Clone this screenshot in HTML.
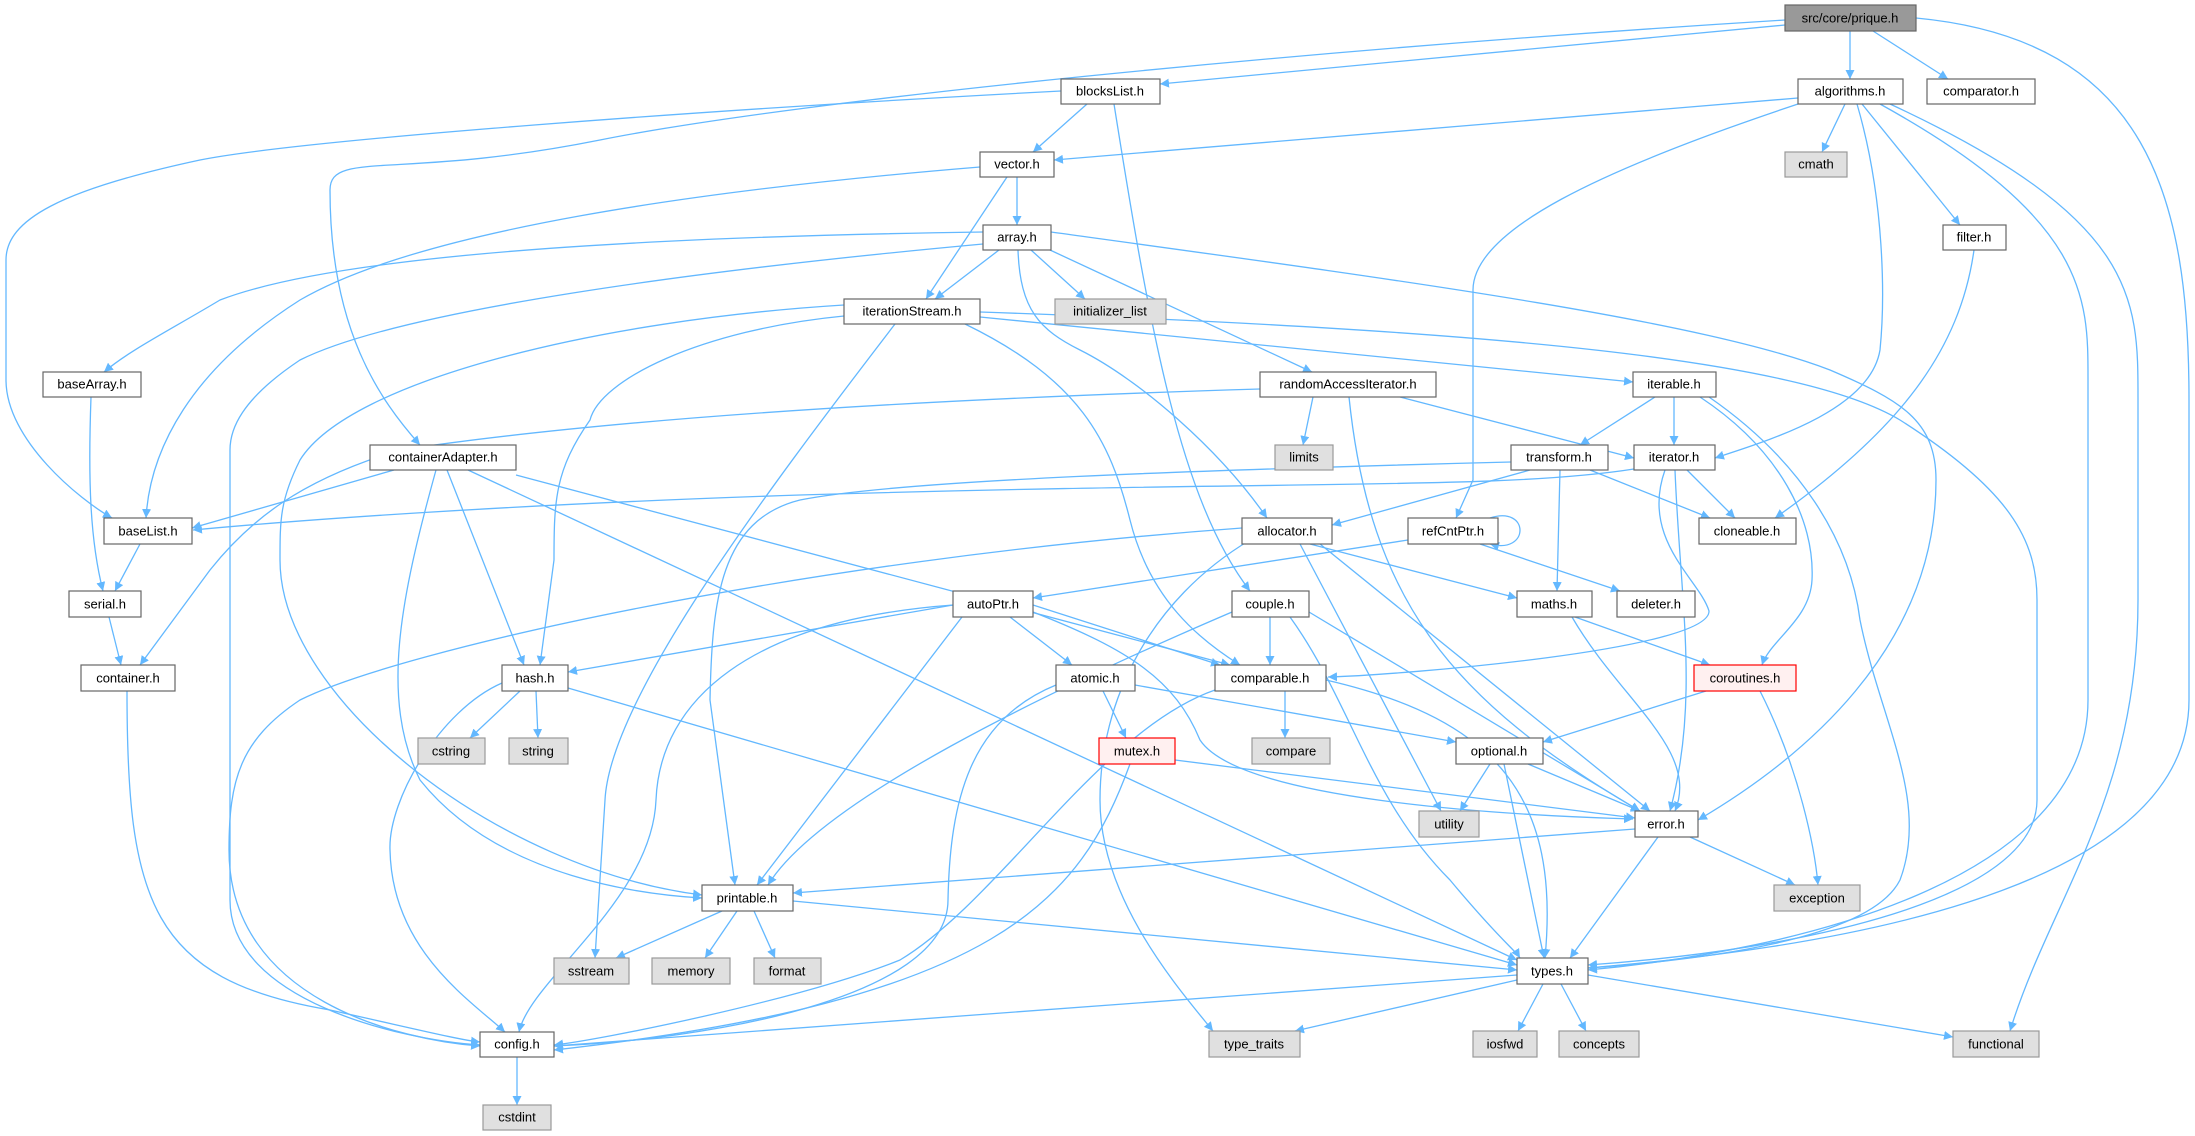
<!DOCTYPE html>
<html><head><meta charset="utf-8"><style>
html,body{margin:0;padding:0;background:#fff}
svg{display:block}
text{font-family:"Liberation Sans","DejaVu Sans",sans-serif;font-size:13px;fill:#000;text-anchor:middle;dominant-baseline:central}
.e{fill:none;stroke:#63b8ff;stroke-width:1.3}
.n rect{fill:#fff;stroke:#666;stroke-width:1.2}
.g rect{fill:#e0e0e0;stroke:#999;stroke-width:1.2}
.r rect{fill:#fff0f0;stroke:#f00;stroke-width:1.2}
.root rect{fill:#999;stroke:#666;stroke-width:1.2}
</style></head><body>
<svg width="2195" height="1136" viewBox="0 0 2195 1136" xmlns="http://www.w3.org/2000/svg">
<defs><marker id="a" viewBox="0 0 10 10" refX="10" refY="5" markerWidth="9" markerHeight="9" orient="auto" markerUnits="userSpaceOnUse"><path d="M0,0L10,5L0,10z" fill="#63b8ff"/></marker></defs>
<g marker-end="url(#a)">
<path class="e" d="M1785,20 C1300,50 800,100 600,140 C400,180 330,150 330,190 C330,330 380,400 420,445"/>
<path class="e" d="M1785,25 L1160,84"/>
<path class="e" d="M1850,31 L1850,79"/>
<path class="e" d="M1873,31 L1948,79"/>
<path class="e" d="M1916,18 C2150,40 2189,200 2189,400 L2189,700 C2189,900 1800,950 1588,968"/>
<path class="e" d="M1061,91 C700,110 300,140 200,160 C60,190 6,220 6,260 L6,380 C6,440 80,500 112,518"/>
<path class="e" d="M1087,104 L1033,152"/>
<path class="e" d="M1114,104 C1150,330 1180,500 1250,591"/>
<path class="e" d="M1798,98 L1054,160"/>
<path class="e" d="M1845,104 L1822,152"/>
<path class="e" d="M1798,104 C1600,170 1473,230 1473,290 L1473,480 L1456,518"/>
<path class="e" d="M1857,104 C1885,200 1885,300 1880,350 C1870,410 1770,440 1715,458"/>
<path class="e" d="M1862,104 L1960,225"/>
<path class="e" d="M1880,104 C2090,220 2088,300 2088,380 L2088,700 C2088,880 1800,950 1588,970"/>
<path class="e" d="M1890,104 C2140,220 2138,300 2138,400 L2138,600 C2138,800 2050,900 2010,1031"/>
<path class="e" d="M980,167 C700,190 420,230 300,300 C190,370 150,450 146,518"/>
<path class="e" d="M1007,177 L926,299"/>
<path class="e" d="M1017,177 L1017,225"/>
<path class="e" d="M983,232 C700,236 350,250 220,300 C170,330 130,350 104,372"/>
<path class="e" d="M983,244 C700,270 400,310 300,360 C240,400 230,430 230,450 L230,900 C230,1000 400,1040 480,1045"/>
<path class="e" d="M999,250 L935,299"/>
<path class="e" d="M1031,250 L1085,299"/>
<path class="e" d="M1018,250 C1020,310 1040,330 1080,350 C1140,380 1220,450 1267,518"/>
<path class="e" d="M1050,250 L1312,372"/>
<path class="e" d="M1051,232 C1400,280 1700,320 1830,370 C1900,400 1936,420 1936,480 C1936,650 1800,760 1698,820"/>
<path class="e" d="M844,305 C600,320 350,380 300,460 C280,500 280,520 280,560 C280,700 500,870 702,895"/>
<path class="e" d="M895,324 C760,500 610,700 605,800 L595,958"/>
<path class="e" d="M965,324 C1080,380 1110,440 1130,520 C1150,600 1200,640 1240,665"/>
<path class="e" d="M844,316 C700,330 600,380 590,420 C555,470 554,500 554,560 L540,665"/>
<path class="e" d="M980,317 L1633,382"/>
<path class="e" d="M980,312 C1500,330 1800,360 1900,420 C2010,490 2037,540 2037,600 L2037,800 C2037,900 1800,950 1588,965"/>
<path class="e" d="M91,397 C88,480 90,540 103,591"/>
<path class="e" d="M394,470 L192,528"/>
<path class="e" d="M447,470 L524,665"/>
<path class="e" d="M436,470 C400,600 380,700 420,780 C500,880 650,895 702,898"/>
<path class="e" d="M516,475 L1230,665"/>
<path class="e" d="M468,470 L1517,960"/>
<path class="e" d="M1260,389 C900,400 600,420 400,450 C300,480 250,520 210,570 L140,665"/>
<path class="e" d="M1313,397 L1303,445"/>
<path class="e" d="M1400,397 L1634,458"/>
<path class="e" d="M1349,397 C1370,600 1450,700 1640,811"/>
<path class="e" d="M1655,397 L1580,445"/>
<path class="e" d="M1674,397 L1674,445"/>
<path class="e" d="M1700,397 C1780,450 1815,520 1812,580 C1810,620 1770,640 1762,665"/>
<path class="e" d="M1709,397 C1800,460 1850,540 1860,620 C1880,720 1930,800 1900,880 C1870,940 1700,960 1588,968"/>
<path class="e" d="M1511,462 C1200,470 900,480 800,500 C720,520 712,600 710,700 L735,885"/>
<path class="e" d="M1530,470 L1332,525"/>
<path class="e" d="M1560,470 L1557,591"/>
<path class="e" d="M1590,470 L1710,518"/>
<path class="e" d="M1634,469 C1500,490 1300,480 800,495 C500,505 300,520 193,530"/>
<path class="e" d="M1687,470 L1735,518"/>
<path class="e" d="M1665,470 C1640,540 1700,580 1709,611 C1710,650 1400,675 1328,677"/>
<path class="e" d="M1675,470 C1680,600 1700,700 1670,811"/>
<path class="e" d="M1242,528 C800,560 400,650 300,700 C240,740 229,780 229,850 C229,1000 400,1040 480,1046"/>
<path class="e" d="M1250,540 C1150,600 1100,700 1100,800 C1100,900 1180,990 1213,1031"/>
<path class="e" d="M1310,544 L1517,598"/>
<path class="e" d="M1300,544 L1441,811"/>
<path class="e" d="M1320,544 L1650,811"/>
<path class="e" d="M1490,518 C1530,505 1530,555 1490,544"/>
<path class="e" d="M1408,540 L1033,598"/>
<path class="e" d="M1480,544 L1620,591"/>
<path class="e" d="M953,605 L568,672"/>
<path class="e" d="M953,605 C750,620 660,700 656,800 C652,900 530,980 519,1032"/>
<path class="e" d="M962,617 L757,885"/>
<path class="e" d="M1010,617 L1072,665"/>
<path class="e" d="M1033,605 L1220,665"/>
<path class="e" d="M1033,612 C1130,650 1175,680 1200,740 C1240,800 1500,815 1633,819"/>
<path class="e" d="M1232,612 C1050,690 820,800 768,885"/>
<path class="e" d="M1270,617 L1270,665"/>
<path class="e" d="M1290,617 C1350,700 1370,800 1450,880 C1500,940 1515,950 1520,958"/>
<path class="e" d="M1309,612 L1640,811"/>
<path class="e" d="M1575,617 L1710,665"/>
<path class="e" d="M1572,617 C1620,700 1700,750 1675,811"/>
<path class="e" d="M1285,691 L1285,738"/>
<path class="e" d="M1326,680 C1500,720 1560,800 1545,958"/>
<path class="e" d="M1215,690 C1100,730 1000,900 900,960 C800,1000 600,1040 554,1045"/>
<path class="e" d="M1103,691 L1126,738"/>
<path class="e" d="M1135,685 L1456,742"/>
<path class="e" d="M1056,685 C970,720 950,800 948,900 C948,1000 700,1040 554,1046"/>
<path class="e" d="M1175,760 L1635,818"/>
<path class="e" d="M1130,764 C1080,900 1000,1000 554,1050"/>
<path class="e" d="M1706,691 L1543,742"/>
<path class="e" d="M1760,691 C1800,770 1815,850 1818,885"/>
<path class="e" d="M1490,764 L1460,811"/>
<path class="e" d="M1528,764 L1640,811"/>
<path class="e" d="M1504,764 L1544,958"/>
<path class="e" d="M1635,829 L793,893"/>
<path class="e" d="M1690,837 L1795,885"/>
<path class="e" d="M1658,837 L1570,958"/>
<path class="e" d="M520,691 L470,738"/>
<path class="e" d="M536,691 L538,738"/>
<path class="e" d="M568,688 L1517,965"/>
<path class="e" d="M502,683 C440,710 388,800 390,850 C392,950 470,1000 505,1032"/>
<path class="e" d="M127,691 C127,900 150,980 330,1010 C420,1030 460,1040 480,1042"/>
<path class="e" d="M109,617 L121,665"/>
<path class="e" d="M140,544 L115,591"/>
<path class="e" d="M722,911 L616,958"/>
<path class="e" d="M737,911 L705,958"/>
<path class="e" d="M754,911 L775,958"/>
<path class="e" d="M793,901 L1517,970"/>
<path class="e" d="M1517,975 L554,1046"/>
<path class="e" d="M1517,980 L1295,1031"/>
<path class="e" d="M1543,984 L1518,1031"/>
<path class="e" d="M1561,984 L1586,1031"/>
<path class="e" d="M1588,975 L1953,1037"/>
<path class="e" d="M517,1057 L517,1105"/>
<path class="e" d="M1974,250 C1960,350 1900,430 1775,518"/>
</g>
<g class="root"><rect x="1785" y="5" width="131" height="26"/><text x="1850" y="18">src/core/prique.h</text></g>
<g class="n"><rect x="1061" y="79" width="99" height="25"/><text x="1110" y="91">blocksList.h</text></g>
<g class="n"><rect x="1798" y="79" width="105" height="25"/><text x="1850" y="91">algorithms.h</text></g>
<g class="n"><rect x="1927" y="79" width="108" height="25"/><text x="1981" y="91">comparator.h</text></g>
<g class="g"><rect x="1785" y="152" width="62" height="25"/><text x="1816" y="164">cmath</text></g>
<g class="n"><rect x="980" y="152" width="74" height="25"/><text x="1017" y="164">vector.h</text></g>
<g class="n"><rect x="983" y="225" width="68" height="25"/><text x="1017" y="237">array.h</text></g>
<g class="n"><rect x="1943" y="225" width="63" height="25"/><text x="1974" y="237">filter.h</text></g>
<g class="n"><rect x="844" y="299" width="136" height="25"/><text x="912" y="311">iterationStream.h</text></g>
<g class="g"><rect x="1055" y="299" width="111" height="25"/><text x="1110" y="311">initializer_list</text></g>
<g class="n"><rect x="43" y="372" width="98" height="25"/><text x="92" y="384">baseArray.h</text></g>
<g class="n"><rect x="1260" y="372" width="176" height="25"/><text x="1348" y="384">randomAccessIterator.h</text></g>
<g class="n"><rect x="1633" y="372" width="83" height="25"/><text x="1674" y="384">iterable.h</text></g>
<g class="n"><rect x="370" y="445" width="146" height="25"/><text x="443" y="457">containerAdapter.h</text></g>
<g class="g"><rect x="1275" y="445" width="58" height="25"/><text x="1304" y="457">limits</text></g>
<g class="n"><rect x="1511" y="445" width="97" height="25"/><text x="1559" y="457">transform.h</text></g>
<g class="n"><rect x="1634" y="445" width="81" height="25"/><text x="1674" y="457">iterator.h</text></g>
<g class="n"><rect x="104" y="518" width="88" height="26"/><text x="148" y="531">baseList.h</text></g>
<g class="n"><rect x="1242" y="518" width="90" height="26"/><text x="1287" y="531">allocator.h</text></g>
<g class="n"><rect x="1408" y="518" width="90" height="26"/><text x="1453" y="531">refCntPtr.h</text></g>
<g class="n"><rect x="1699" y="518" width="97" height="26"/><text x="1747" y="531">cloneable.h</text></g>
<g class="n"><rect x="69" y="591" width="72" height="26"/><text x="105" y="604">serial.h</text></g>
<g class="n"><rect x="953" y="591" width="80" height="26"/><text x="993" y="604">autoPtr.h</text></g>
<g class="n"><rect x="1232" y="591" width="77" height="26"/><text x="1270" y="604">couple.h</text></g>
<g class="n"><rect x="1517" y="591" width="75" height="26"/><text x="1554" y="604">maths.h</text></g>
<g class="n"><rect x="1617" y="591" width="78" height="26"/><text x="1656" y="604">deleter.h</text></g>
<g class="n"><rect x="81" y="665" width="94" height="26"/><text x="128" y="678">container.h</text></g>
<g class="n"><rect x="502" y="665" width="66" height="26"/><text x="535" y="678">hash.h</text></g>
<g class="n"><rect x="1056" y="665" width="79" height="26"/><text x="1095" y="678">atomic.h</text></g>
<g class="n"><rect x="1215" y="665" width="111" height="26"/><text x="1270" y="678">comparable.h</text></g>
<g class="r"><rect x="1694" y="665" width="102" height="26"/><text x="1745" y="678">coroutines.h</text></g>
<g class="g"><rect x="418" y="738" width="67" height="26"/><text x="451" y="751">cstring</text></g>
<g class="g"><rect x="509" y="738" width="59" height="26"/><text x="538" y="751">string</text></g>
<g class="r"><rect x="1099" y="738" width="76" height="26"/><text x="1137" y="751">mutex.h</text></g>
<g class="g"><rect x="1252" y="738" width="78" height="26"/><text x="1291" y="751">compare</text></g>
<g class="n"><rect x="1456" y="738" width="87" height="26"/><text x="1499" y="751">optional.h</text></g>
<g class="g"><rect x="1419" y="811" width="60" height="26"/><text x="1449" y="824">utility</text></g>
<g class="n"><rect x="1635" y="811" width="63" height="26"/><text x="1666" y="824">error.h</text></g>
<g class="n"><rect x="702" y="885" width="91" height="26"/><text x="747" y="898">printable.h</text></g>
<g class="g"><rect x="1774" y="885" width="86" height="26"/><text x="1817" y="898">exception</text></g>
<g class="g"><rect x="554" y="958" width="75" height="26"/><text x="591" y="971">sstream</text></g>
<g class="g"><rect x="652" y="958" width="78" height="26"/><text x="691" y="971">memory</text></g>
<g class="g"><rect x="754" y="958" width="67" height="26"/><text x="787" y="971">format</text></g>
<g class="n"><rect x="1517" y="958" width="71" height="26"/><text x="1552" y="971">types.h</text></g>
<g class="n"><rect x="480" y="1032" width="74" height="25"/><text x="517" y="1044">config.h</text></g>
<g class="g"><rect x="1209" y="1031" width="91" height="26"/><text x="1254" y="1044">type_traits</text></g>
<g class="g"><rect x="1473" y="1031" width="64" height="26"/><text x="1505" y="1044">iosfwd</text></g>
<g class="g"><rect x="1559" y="1031" width="80" height="26"/><text x="1599" y="1044">concepts</text></g>
<g class="g"><rect x="1953" y="1031" width="86" height="26"/><text x="1996" y="1044">functional</text></g>
<g class="g"><rect x="483" y="1105" width="68" height="25"/><text x="517" y="1117">cstdint</text></g>
</svg>
</body></html>
